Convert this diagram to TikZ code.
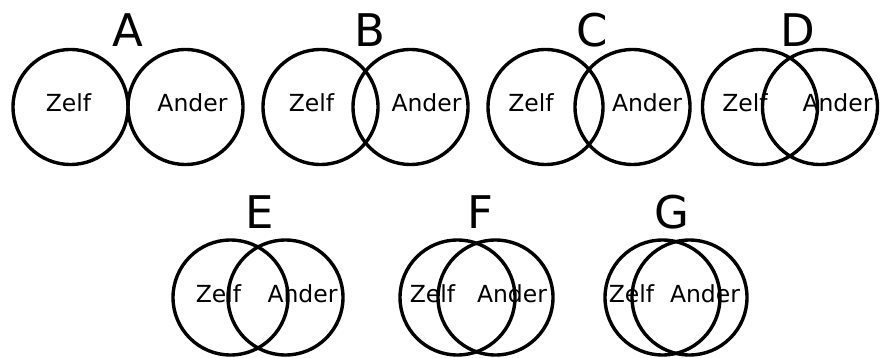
\documentclass[tikz,border=0pt]{standalone}
\usepackage{fontspec}
\setmainfont{DejaVu Sans}
\begin{document}
\begin{tikzpicture}[x=1pt,y=-1pt,
  ring/.style={circle,draw=black,line width=3.4pt,minimum size=115pt,inner sep=0pt},
  lbl/.style={anchor=base,inner sep=0pt,font=\fontsize{23.5}{26}\selectfont},
  big/.style={anchor=base,inner sep=0pt,font=\fontsize{45}{50}\selectfont}]
\useasboundingbox (0,0) rectangle (880,358);
% row 1
\node[big] (tA) at (128,47) {A};
\node[ring] (zA) at (70.5,107) {};
\node[ring] (oA) at (185.5,107) {};
\node[lbl] (lzA) at (68.5,112) {Zelf};
\node[lbl] (loA) at (192.5,112) {Ander};

\node[big] (tB) at (370,47) {B};
\node[ring] (zB) at (320.5,107) {};
\node[ring] (oB) at (410.5,107) {};
\node[lbl] (lzB) at (311.5,112) {Zelf};
\node[lbl] (loB) at (426.5,112) {Ander};

\node[big] (tC) at (592,47) {C};
\node[ring] (zC) at (545.5,107) {};
\node[ring] (oC) at (632.5,107) {};
\node[lbl] (lzC) at (531,112) {Zelf};
\node[lbl] (loC) at (647,112) {Ander};

\node[big] (tD) at (798,47) {D};
\node[ring] (zD) at (760,107) {};
\node[ring] (oD) at (820,107) {};
\node[lbl] (lzD) at (745,112) {Zelf};
\node[lbl] (loD) at (837.5,112) {Ander};
% row 2
\node[big] (tE) at (260,228) {E};
\node[ring] (zE) at (230.5,297.5) {};
\node[ring] (oE) at (285.5,297.5) {};
\node[lbl] (lzE) at (218.5,302) {Zelf};
\node[lbl] (loE) at (302.5,302) {Ander};

\node[big] (tF) at (480,228) {F};
\node[ring] (zF) at (457.5,297.5) {};
\node[ring] (oF) at (495.5,297.5) {};
\node[lbl] (lzF) at (432.5,302) {Zelf};
\node[lbl] (loF) at (512,302) {Ander};

\node[big] (tG) at (672,228) {G};
\node[ring] (zG) at (662.5,297.5) {};
\node[ring] (oG) at (689.5,297.5) {};
\node[lbl] (lzG) at (631.5,302) {Zelf};
\node[lbl] (loG) at (705,302) {Ander};
\end{tikzpicture}
\end{document}
